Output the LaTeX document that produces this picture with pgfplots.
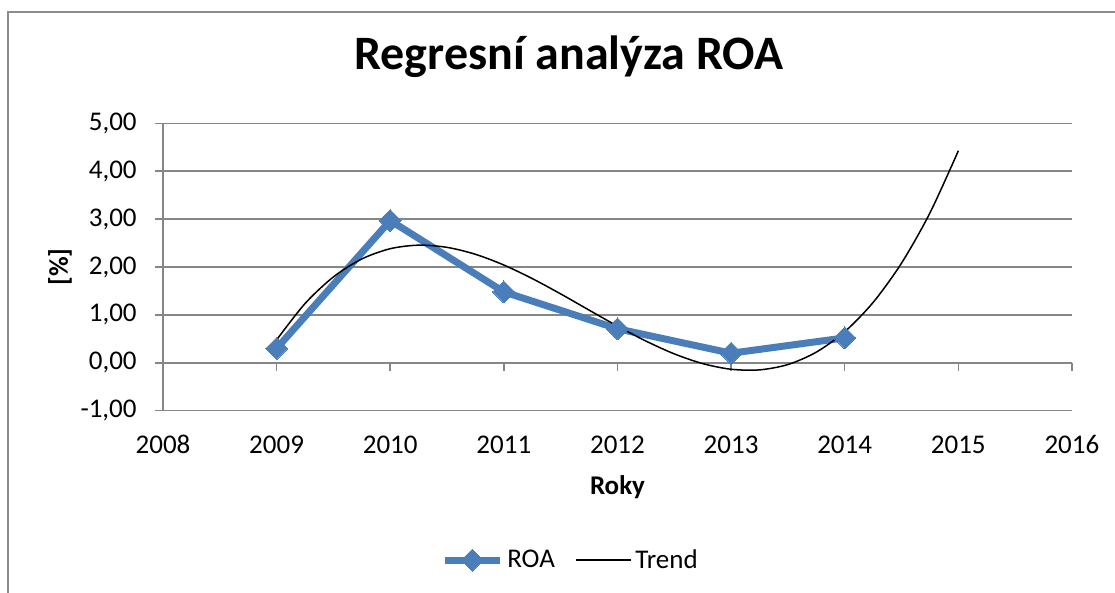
\documentclass[border=0pt]{standalone}
\usepackage{pgfplots}
\pgfplotsset{compat=1.18}
\usepackage{fontspec}
\setmainfont{Carlito}
\definecolor{gridgray}{RGB}{134,134,134}
\definecolor{bordergray}{RGB}{140,140,140}
\definecolor{roablue}{RGB}{74,126,187}
\begin{document}
\begin{tikzpicture}
\useasboundingbox (0,0) rectangle (557.5pt,296.5pt);
\clip (0,0) rectangle (557.5pt,296.5pt);
\draw[bordergray, line width=1pt] (4.15pt,-20pt) rectangle (620pt,290.5pt);
\node[anchor=base, font=\fontsize{24}{28}\selectfont\bfseries] at (284.5pt,261.85pt) {Regresní analýza ROA};
\begin{axis}[
  at={(81.5pt,91.15pt)}, anchor=south west,
  scale only axis, width=454.5pt, height=143.7pt,
  xmin=2008, xmax=2016, ymin=-1, ymax=5,
  xtick={2008,2009,...,2016}, ytick={-1,0,...,5},
  axis y line*=left, axis x line*=middle,
  hide obscured x ticks=false, hide obscured y ticks=false,
  axis line style={-, gridgray, line width=0.75pt},
  tick style={gridgray, line width=0.75pt},
  tick align=outside, major tick length=4pt,
  ymajorgrids, grid style={gridgray, line width=0.75pt},
  /pgf/number format/assume math mode=true,
  ticklabel style={font=\fontsize{13.5}{16}\selectfont, text=black},
  x tick label style={/pgf/number format/1000 sep={}},
  xticklabel style={anchor=base, inner sep=0pt, yshift=-41.25pt},
  y tick label style={/pgf/number format/fixed, /pgf/number format/fixed zerofill, /pgf/number format/precision=2, /pgf/number format/use comma},
  yticklabel style={anchor=east, inner sep=0pt, xshift=-9pt},
  xlabel={Roky}, ylabel={[\%]},
  label style={font=\fontsize{13.5}{16}\selectfont\bfseries},
  xlabel style={at={(axis description cs:0.5,0)}, anchor=center, yshift=-38.2pt},
  ylabel style={at={(axis description cs:-0.1133,0.5)}, anchor=center, rotate=0},
  legend columns=2,
  legend style={at={(axis description cs:0.4494,-0.52)}, anchor=center, draw=none, fill=none,
    font=\fontsize{13.5}{16}\selectfont,
    /tikz/every even column/.append style={column sep=8pt}},
  legend image code/.code={\draw[mark repeat=2, mark phase=2, #1] plot coordinates {(0pt,0pt) (13.75pt,0pt) (27.5pt,0pt)};},
]
\addplot[roablue, line width=3.5pt, mark=square*, mark size=3.9pt,
  mark options={solid, rotate=45, fill=roablue, draw=roablue, line width=0pt}]
  coordinates {(2009,0.30) (2010,2.97) (2011,1.48) (2012,0.71) (2013,0.20) (2014,0.52)};
\addlegendentry{ROA}
\addplot[black, line width=0.75pt, smooth, no marks] coordinates {
(2009.00,0.479) (2009.25,1.237) (2009.50,1.793) (2009.75,2.168)
(2010.00,2.382) (2010.25,2.456) (2010.50,2.410) (2010.75,2.265)
(2011.00,2.041) (2011.25,1.758) (2011.50,1.438) (2011.75,1.100)
(2012.00,0.765) (2012.25,0.454) (2012.50,0.186) (2012.75,-0.017)
(2013.00,-0.135) (2013.25,-0.148) (2013.50,-0.036) (2013.75,0.223)
(2014.00,0.649) (2014.25,1.261) (2014.50,2.082) (2014.75,3.130)
(2015.00,4.427)};
\addlegendentry{Trend}
\end{axis}
\end{tikzpicture}
\end{document}
